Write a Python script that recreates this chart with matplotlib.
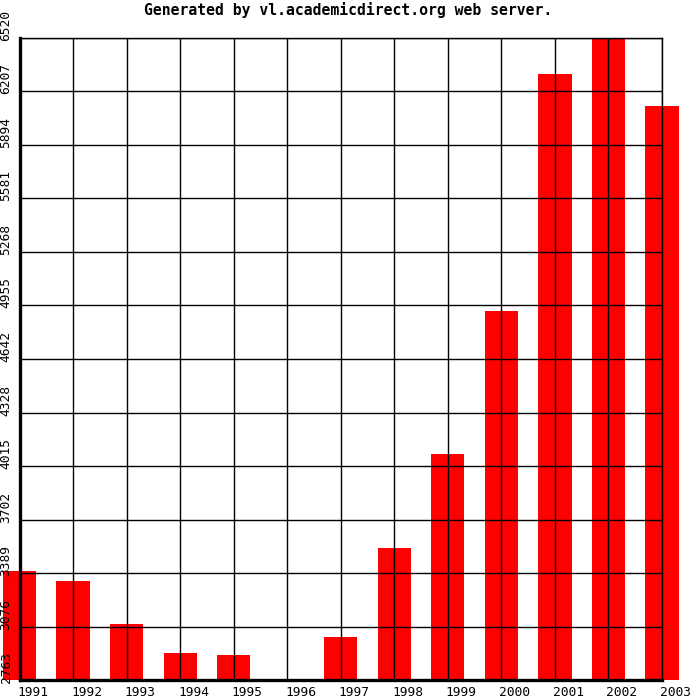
import matplotlib
matplotlib.use("Agg")
import matplotlib.pyplot as plt
import matplotlib.transforms as mtransforms

years = ["1991", "1992", "1993", "1994", "1995", "1996", "1997",
         "1998", "1999", "2000", "2001", "2002", "2003"]
values = [3401, 3342, 3091, 2921, 2909, 2763, 3015,
          3535, 4085, 4922, 6309, 6520, 6122]
ytick_values = [2763, 3076, 3389, 3702, 4015, 4328, 4642,
                4955, 5268, 5581, 5894, 6207, 6520]
title = "Generated by vl.academicdirect.org web server."

font = "DejaVu Sans Mono"
W = H = 700
fig = plt.figure(figsize=(7, 7), dpi=100, facecolor="white")
ax = fig.add_axes([19.5 / W, 1 - 680 / H, (662 - 19.5) / W, (680 - 38) / H])
ax.set_facecolor("white")

x = list(range(len(years)))
base = ytick_values[0]
ax.bar(x, [v - base for v in values], bottom=base, width=0.62,
       color="#ff0000", edgecolor="none", clip_on=False, zorder=1)

ax.set_xlim(0, len(years) - 1)
ax.set_ylim(ytick_values[0], ytick_values[-1])
ax.set_xticks(x)
ax.set_xticklabels(years, fontfamily=font, fontsize=9.3, ha="left")
ax.set_yticks(ytick_values)
ax.set_yticklabels([str(v) for v in ytick_values], fontfamily=font,
                   fontsize=9.3, rotation=90, va="bottom", ha="right")
ax.tick_params(axis="x", length=0, pad=4)
ax.tick_params(axis="y", length=0, pad=5)

off = mtransforms.ScaledTranslation(0, -3 / 100, fig.dpi_scale_trans)
for lbl in ax.get_yticklabels():
    lbl.set_transform(lbl.get_transform() + off)
offx = mtransforms.ScaledTranslation(-2 / 100, 0, fig.dpi_scale_trans)
for lbl in ax.get_xticklabels():
    lbl.set_transform(lbl.get_transform() + offx)

ax.grid(True, color="black", linewidth=1.0, zorder=2.5)
ax.set_axisbelow(False)
for s in ["left", "bottom"]:
    ax.spines[s].set_linewidth(2.4)
    ax.spines[s].set_zorder(3)
for s in ["top", "right"]:
    ax.spines[s].set_linewidth(1.0)

fig.text(348 / W, 1 - 10 / H, title, ha="center", va="center",
         fontfamily=font, fontweight="bold", fontsize=10.6)

fig.savefig("out.png", dpi=100, facecolor="white")
